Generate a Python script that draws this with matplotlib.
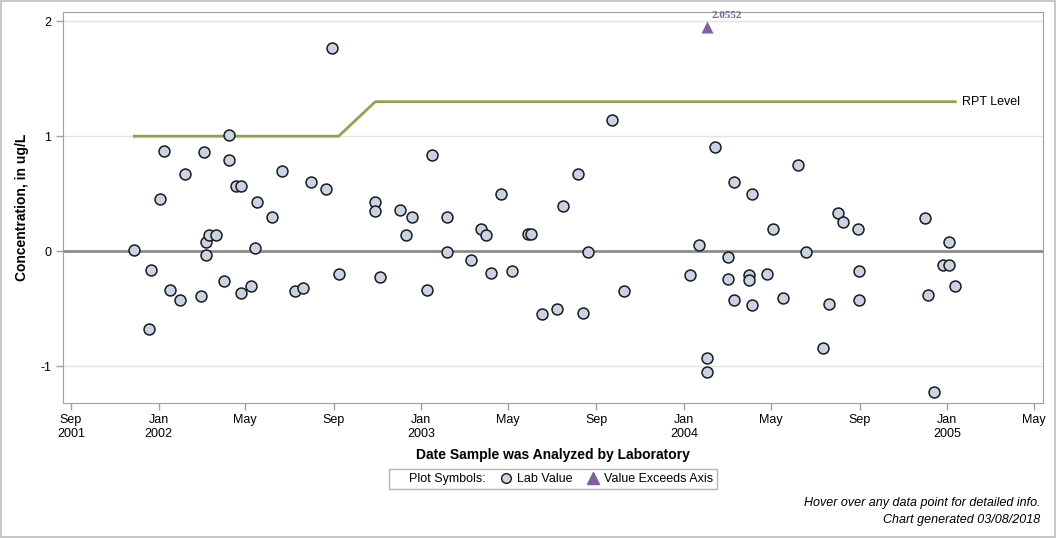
import numpy as np
import pandas as pd
import matplotlib
matplotlib.use('Agg')
import matplotlib.pyplot as plt
import matplotlib.dates as mdates
from matplotlib.lines import Line2D

plt.rcParams['font.family'] = ['Liberation Sans', 'DejaVu Sans']

# Lab values (date analyzed, concentration ug/L)
lab_dates = [
    '2001-11-28', '2001-12-21', '2001-12-19', '2002-01-03', '2002-01-09', '2002-01-17',
    '2002-01-31', '2002-02-06', '2002-03-01', '2002-03-05', '2002-03-08', '2002-03-08',
    '2002-03-12', '2002-03-22', '2002-04-02', '2002-04-09', '2002-04-09', '2002-04-19',
    '2002-04-26', '2002-04-26', '2002-05-09', '2002-05-15', '2002-05-18', '2002-06-08',
    '2002-06-22', '2002-07-10', '2002-07-20', '2002-07-31', '2002-08-22', '2002-08-30',
    '2002-09-08', '2002-10-29', '2002-10-29', '2002-11-05', '2002-12-03', '2002-12-11',
    '2002-12-19', '2003-01-09', '2003-01-16', '2003-02-06', '2003-02-06', '2003-03-11',
    '2003-03-25', '2003-04-01', '2003-04-08', '2003-04-22', '2003-05-07', '2003-05-29',
    '2003-06-03', '2003-06-18', '2003-07-09', '2003-07-17', '2003-08-07', '2003-08-14',
    '2003-08-21', '2003-09-23', '2003-10-10', '2004-01-10', '2004-01-22', '2004-02-02',
    '2004-02-02', '2004-02-13', '2004-03-02', '2004-03-02', '2004-03-11', '2004-03-11',
    '2004-03-31', '2004-03-31', '2004-04-05', '2004-04-05', '2004-04-26', '2004-05-04',
    '2004-05-18', '2004-06-07', '2004-06-18', '2004-07-12', '2004-07-21', '2004-08-02',
    '2004-08-09', '2004-08-30', '2004-08-31', '2004-08-31', '2004-12-01', '2004-12-05',
    '2004-12-14', '2004-12-26', '2005-01-04', '2005-01-04', '2005-01-12',
]
lab_values = [
    0.01, -0.16, -0.68, 0.45, 0.87, -0.34,
    -0.42, 0.67, -0.39, 0.86, 0.08, -0.03,
    0.14, 0.14, -0.26, 1.01, 0.79, 0.57,
    0.57, -0.36, -0.30, 0.03, 0.43, 0.30,
    0.70, -0.35, -0.32, 0.60, 0.54, 1.77,
    -0.20, 0.43, 0.35, -0.22, 0.36, 0.14,
    0.30, -0.34, 0.84, 0.30, -0.01, -0.08,
    0.19, 0.14, -0.19, 0.50, -0.17, 0.15,
    0.15, -0.55, -0.50, 0.39, 0.67, -0.54,
    -0.01, 1.14, -0.35, -0.21, 0.05, -0.93,
    -1.05, 0.91, -0.05, -0.24, 0.60, -0.42,
    -0.21, -0.25, 0.50, -0.47, -0.20, 0.19,
    -0.41, 0.75, -0.01, -0.84, -0.46, 0.33,
    0.25, 0.19, -0.17, -0.42, 0.29, -0.38,
    -1.22, -0.12, 0.08, -0.12, -0.30,
]

# Values above the axis maximum
exceed_dates = ['2004-02-02']
exceed_values = [2.0552]

# Reporting level
rpt_dates = ['2001-11-28', '2002-09-08', '2002-10-29', '2005-01-12']
rpt_values = [1.0, 1.0, 1.3, 1.3]

lab_dates = pd.to_datetime(lab_dates)
exceed_dates = pd.to_datetime(exceed_dates)
rpt_dates = pd.to_datetime(rpt_dates)

y_min, y_max = -1.32, 2.08
y_cap = 1.95  # where exceeding values are drawn

fig = plt.figure(figsize=(10.56, 5.38), dpi=100)
fig.patch.set_edgecolor('#c8c8c8')
fig.patch.set_linewidth(1.5)
ax = fig.add_axes([0.0597, 0.2509, 0.928, 0.7268])

for v in [-1, 1, 2]:
    ax.axhline(v, color='#e3e3e3', lw=1, zorder=0)
ax.axhline(0, color='#8c8c8c', lw=2, zorder=1)

ax.plot(rpt_dates, rpt_values, color='#8aa84a', lw=2, zorder=2)
ax.text(rpt_dates[-1] + pd.Timedelta(days=10), rpt_values[-1], 'RPT Level',
        va='center', ha='left', fontsize=9, color='black')

ax.scatter(lab_dates, lab_values, s=62, facecolor='#c8d3e3', edgecolor='#1a1a1a',
           linewidth=1.1, zorder=4)

ex_y = np.minimum(exceed_values, y_cap)
ax.scatter(exceed_dates, ex_y, marker='^', s=75, color='#7e5fa3', zorder=4, linewidth=0)
for d, yv, v in zip(exceed_dates, ex_y, exceed_values):
    ax.annotate(f'{v:.4f}', (d, yv), xytext=(3, 5), textcoords='offset points',
                fontsize=8, fontweight='bold', color='#7e5fa3',
                family='Liberation Serif', ha='left', va='bottom')

ax.set_xlim(pd.Timestamp('2001-08-21'), pd.Timestamp('2005-05-14'))
ax.set_ylim(y_min, y_max)
ax.set_yticks([-1, 0, 1, 2])
ax.set_yticklabels(['-1', '0', '1', '2'])

ax.xaxis.set_major_locator(mdates.MonthLocator(bymonth=[1, 5, 9]))


def fmt(x, pos):
    d = mdates.num2date(x)
    lab = d.strftime('%b')
    if d.month == 1 or pos == 0:
        lab += '\n' + d.strftime('%Y')
    return lab


ax.xaxis.set_major_formatter(plt.FuncFormatter(fmt))

for s in ax.spines.values():
    s.set_color('#a0a0a0')
ax.tick_params(axis='both', colors='#a0a0a0', labelcolor='black', labelsize=9,
               length=5, width=1)
ax.tick_params(axis='x', pad=3)

ax.set_xlabel('Date Sample was Analyzed by Laboratory', fontsize=10,
              fontweight='bold', labelpad=6)
ax.set_ylabel('Concentration, in ug/L', fontsize=10, fontweight='bold', labelpad=8)

handles = [
    Line2D([], [], linestyle='none', marker=None),
    Line2D([], [], linestyle='none', marker='o', markersize=7,
           markerfacecolor='#c8d3e3', markeredgecolor='#1a1a1a'),
    Line2D([], [], linestyle='none', marker='^', markersize=8,
           markerfacecolor='#7e5fa3', markeredgecolor='#7e5fa3'),
]
labels = ['Plot Symbols:', 'Lab Value', 'Value Exceeds Axis']
leg = fig.legend(handles, labels, ncol=3, loc='center', bbox_to_anchor=(0.5237, 0.1097),
                 fontsize=9, frameon=True, fancybox=False, edgecolor='#a0a0a0',
                 handlelength=0.8, handletextpad=0.5, columnspacing=1.2,
                 borderpad=0.3)
leg.get_frame().set_linewidth(1)

fig.text(0.985, 0.065, 'Hover over any data point for detailed info.', ha='right',
         va='center', fontsize=9, style='italic')
fig.text(0.985, 0.033, 'Chart generated 03/08/2018', ha='right', va='center',
         fontsize=9, style='italic')

fig.savefig('out.png', dpi=100, edgecolor=fig.get_edgecolor())
